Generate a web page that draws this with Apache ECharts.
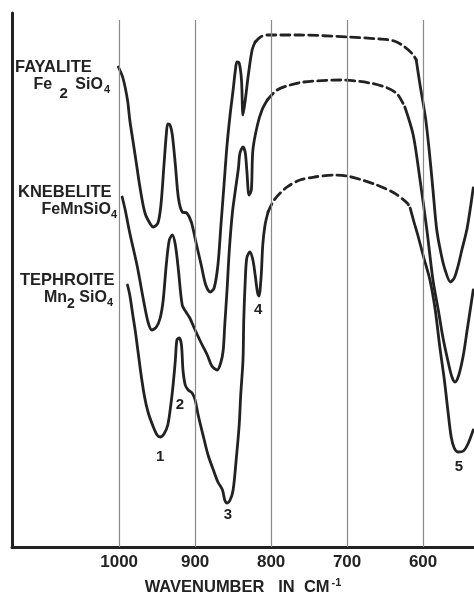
<!DOCTYPE html>
<html><head><meta charset="utf-8">
<script src="https://cdn.jsdelivr.net/npm/echarts@6/dist/echarts.min.js"></script>
<style>html,body{margin:0;padding:0;background:#fff}#c{width:474px;height:593px}</style>
</head><body><div id="c"></div>
<script>
// x: wavenumber (cm^-1), y: relative transmission (arbitrary units, 0 at baseline)
const tickValues = [1000, 900, 800, 700, 600];
const gridLineTop = 527;

// FAYALITE Fe2SiO4
const fayaliteA = [[1001,480],[995,469],[989,447],[986,427],[982,407],[978,387],[972,357],[966,334],[959,323],[955,320],[949,324],[945,342],[941,382],[938,412],[936,423],[933,422],[930,412],[926,382],[922,349],[917,335],[911,334],[905,325],[899,305],[892,282],[886,262],[880,255],[875,259],[870,282],[866,322],[862,362],[858,402],[854,432],[850,457],[847,477],[845,485],[842,484],[839,467],[837,432],[834,447],[830,472],[825,497],[821,505]];
const fayaliteDash = [[821,505],[814,510],[805,512],[762,512],[700,510],[657,508],[638,506],[624,500],[614,493],[609,487]];
const fayaliteB = [[609,487],[604,462],[597,430],[592,397],[587,357],[582,317],[576,292],[571,277],[564,265],[559,269],[554,281],[549,297],[542,319],[534,359]];

// KNEBELITE FeMnSiO4
const knebeliteA = [[996,350],[992,337],[986,314],[976,280],[968,247],[962,225],[957,217],[951,220],[946,229],[942,247],[938,282],[934,307],[930,312],[926,302],[922,277],[917,242],[912,235],[907,229],[900,217],[892,204],[884,192],[878,181],[871,177],[866,185],[863,197],[861,222],[858,257],[855,297],[851,334],[847,357],[843,379],[841,394],[837,400],[834,394],[832,377],[829,352],[826,357],[824,397],[818,422],[812,437],[805,447]];
const knebeliteDash = [[805,447],[792,457],[775,462],[757,465],[709,467],[670,464],[647,459],[634,453],[624,440]];
const knebeliteB = [[624,440],[613,412],[604,367],[595,317],[587,267],[580,237],[574,210],[567,185],[562,170],[558,165],[553,172],[547,192],[542,217],[534,257]];

// TEPHROITE Mn2SiO4
const tephroiteA = [[989,262],[986,252],[982,232],[978,212],[972,177],[967,152],[962,135],[955,120],[950,112],[946,110],[941,113],[936,122],[932,142],[929,162],[926,187],[924,207],[921,209],[918,202],[916,177],[913,162],[909,157],[904,154],[900,147],[896,132],[889,110],[883,92],[876,77],[870,65],[864,57],[861,47],[858,44],[854,47],[850,57],[846,87],[842,122],[840,152],[837,187],[836,227],[834,267],[832,289],[828,295],[824,287],[821,272],[818,255],[816,251],[813,272],[811,302],[808,322],[804,335]];
const tephroiteDash = [[804,335],[796,347],[779,360],[762,367],[743,370],[717,372],[700,371],[680,367],[661,362],[638,354],[621,344],[617,339]];
const tephroiteB = [[617,339],[612,325],[607,312],[599,289],[591,267],[584,237],[578,200],[572,167],[567,134],[563,110],[559,99],[554,95],[547,96],[541,103],[534,117]];

// band numbers
const peakLabels = ['1','2','3','4','5'];
const peakLabelWn = [946, 920, 857, 817, 553];
const peakLabelV = [90, 142, 32, 237, 80];

const INK = '#222';
const FONT = '"Liberation Sans", Arial, sans-serif';

function curve(name, data, dashed) {
  return {
    name, type: 'line', data, smooth: 0.3, symbol: 'none', silent: true,
    lineStyle: { color: INK, width: 2.8, type: dashed ? [9, 5] : 'solid', cap: 'round', join: 'round' },
    z: 3
  };
}

const chart = echarts.init(document.getElementById('c'), null, { renderer: 'canvas' });
chart.setOption({
  backgroundColor: '#fff',
  animation: false,
  grid: { left: 12, right: 0, top: 13, bottom: 46, containLabel: false, outerBoundsMode: 'none' },
  xAxis: {
    type: 'value', min: 533, max: 1141, inverse: true,
    axisLine: { show: true, onZero: false, lineStyle: { color: INK, width: 3 } },
    axisTick: { show: false },
    splitLine: { show: false },
    axisLabel: { customValues: tickValues, formatter: v => String(v), color: INK, fontSize: 17, fontWeight: 'bold', fontFamily: FONT, margin: 7 },
    name: 'WAVENUMBER   IN  CM{sup|-1}',
    nameLocation: 'middle', nameGap: 30,
    nameTextStyle: { color: INK, fontSize: 16.5, fontWeight: 'bold', fontFamily: FONT,
      rich: { sup: { fontSize: 11, fontWeight: 'bold', fontFamily: FONT, color: INK, padding: [0, 0, 10, 2] } } }
  },
  yAxis: {
    type: 'value', min: 0, max: 534,
    axisLine: { show: true, onZero: false, lineStyle: { color: INK, width: 3 } },
    axisTick: { show: false }, axisLabel: { show: false }, splitLine: { show: false }
  },
  graphic: [
    { type: 'text', x: 15, y: 67, style: { text: 'FAYALITE', fontSize: 16.5, fontWeight: 'bold', fontFamily: FONT, fill: INK, textVerticalAlign: 'middle' } },
    { type: 'text', x: 110, y: 85, style: { text: 'Fe {a|2} SiO{b|4}', textAlign: 'right', textVerticalAlign: 'middle', fontSize: 16, fontWeight: 'bold', fontFamily: FONT, fill: INK,
      rich: { a: { fontSize: 15, fontWeight: 'bold', fontFamily: FONT, fill: INK, padding: [18, 3, 0, 3] }, b: { fontSize: 11, fontWeight: 'bold', fontFamily: FONT, fill: INK, padding: [10, 0, 0, 1] } } } },
    { type: 'text', x: 18, y: 192, style: { text: 'KNEBELITE', fontSize: 16.5, fontWeight: 'bold', fontFamily: FONT, fill: INK, textVerticalAlign: 'middle' } },
    { type: 'text', x: 117, y: 210, style: { text: 'FeMnSiO{b|4}', textAlign: 'right', textVerticalAlign: 'middle', fontSize: 16, fontWeight: 'bold', fontFamily: FONT, fill: INK,
      rich: { b: { fontSize: 11, fontWeight: 'bold', fontFamily: FONT, fill: INK, padding: [10, 0, 0, 0] } } } },
    { type: 'text', x: 20, y: 280, style: { text: 'TEPHROITE', fontSize: 16.5, fontWeight: 'bold', fontFamily: FONT, fill: INK, textVerticalAlign: 'middle' } },
    { type: 'text', x: 113, y: 298, style: { text: 'Mn{a|2} SiO{b|4}', textAlign: 'right', textVerticalAlign: 'middle', fontSize: 16, fontWeight: 'bold', fontFamily: FONT, fill: INK,
      rich: { a: { fontSize: 14, fontWeight: 'bold', fontFamily: FONT, fill: INK, padding: [12, 0, 0, 0] }, b: { fontSize: 11, fontWeight: 'bold', fontFamily: FONT, fill: INK, padding: [10, 0, 0, 0] } } } }
  ],
  series: [
    {
      name: 'grid', type: 'line', data: [], silent: true, symbol: 'none', z: 1,
      markLine: {
        silent: true, symbol: ['none', 'none'], animation: false,
        label: { show: false },
        lineStyle: { color: '#8a8a8a', width: 1.2, type: 'solid' },
        emphasis: { disabled: true },
        data: tickValues.map(v => [{ coord: [v, 0] }, { coord: [v, gridLineTop] }])
      }
    },
    curve('Fayalite', fayaliteA, false),
    curve('Fayalite (interpolated)', fayaliteDash, true),
    curve('Fayalite ', fayaliteB, false),
    curve('Knebelite', knebeliteA, false),
    curve('Knebelite (interpolated)', knebeliteDash, true),
    curve('Knebelite ', knebeliteB, false),
    curve('Tephroite', tephroiteA, false),
    curve('Tephroite (interpolated)', tephroiteDash, true),
    curve('Tephroite ', tephroiteB, false),
    {
      name: 'bands', type: 'scatter', symbolSize: 0, silent: true, z: 4,
      itemStyle: { color: INK, opacity: 1 },
      data: peakLabels.map((t, i) => ({ name: t, value: [peakLabelWn[i], peakLabelV[i]] })),
      label: { show: true, position: 'inside', formatter: '{b}', color: INK, fontSize: 15, fontWeight: 'bold', fontFamily: FONT, textBorderWidth: 0, opacity: 1 }
    }
  ]
});
</script>
</body></html>
